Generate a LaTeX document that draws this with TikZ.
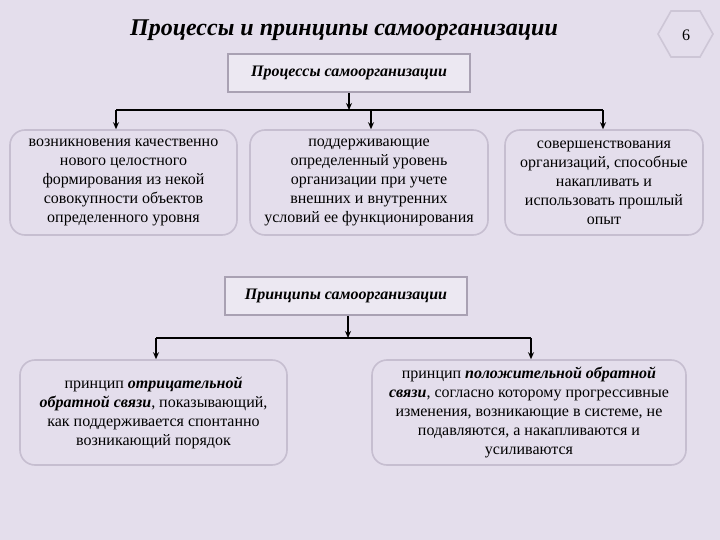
\documentclass[tikz,border=0pt]{standalone}
\usepackage{fontspec}
\setmainfont{Liberation Serif}
\usetikzlibrary{arrows.meta}
\definecolor{bgc}{HTML}{E4DEEC}
\definecolor{rbord}{HTML}{C6BED0}
\definecolor{hbord}{HTML}{A9A1B3}
\definecolor{hexc}{HTML}{CDC6D6}
\tikzset{
  rbox/.style={draw=rbord, line width=1.6pt, rounded corners=15pt, fill=bgc, align=center,
    inner sep=2pt, font=\fontsize{16}{19}\selectfont},
  hbox/.style={draw=hbord, line width=1.8pt, fill=bgc!70!white, align=center,
    font=\fontsize{16}{18}\selectfont\bfseries\itshape},
  conn/.style={line width=1.1pt, black},
  arr/.style={conn, -{Stealth[length=7pt,width=6pt]}}
}
\begin{document}
\begin{tikzpicture}[x=1pt,y=-1pt]
\fill[bgc] (0,0) rectangle (720,540);
\useasboundingbox (0,0) rectangle (720,540);

\node[font=\fontsize{24}{27}\selectfont\bfseries\itshape] (title) at (344,30) {Процессы и принципы самоорганизации};
\draw[hexc, line width=1.6pt] (658,34) -- (671,11) -- (700,11) -- (713,34) -- (700,57) -- (671,57) -- cycle;
\node[font=\fontsize{16}{18}\selectfont] (num) at (686,35) {6};

\node[hbox, minimum width=242pt, minimum height=38pt] (h1) at (349,73) {Процессы самоорганизации};

\node[rbox, minimum width=227pt, minimum height=105pt] (b1) at (123.5,182.5)
 {возникновения качественно\\нового целостного\\формирования из некой\\совокупности объектов\\определенного уровня};
\node[rbox, minimum width=238pt, minimum height=105pt] (b2) at (369,182.5)
 {поддерживающие\\определенный уровень\\организации при учете\\внешних и внутренних\\условий ее функционирования};
\node[rbox, minimum width=198pt, minimum height=105pt] (b3) at (604,182.5)
 {совершенствования\\организаций, способные\\накапливать и\\использовать прошлый\\опыт};

\coordinate (j1) at (349,110);
\coordinate (l1) at (116,110);
\coordinate (m1) at (371,110);
\coordinate (r1) at (603,110);
\draw[arr] (h1.south) -- (j1);
\draw[conn] (l1) -- (r1);
\draw[arr] (l1) -- (l1 |- b1.north);
\draw[arr] (m1) -- (m1 |- b2.north);
\draw[arr] (r1) -- (r1 |- b3.north);

\node[hbox, minimum width=242pt, minimum height=38pt] (h2) at (346,296) {Принципы самоорганизации};

\node[rbox, minimum width=267pt, minimum height=105pt] (b4) at (153.5,412.5)
 {принцип \textbf{\textit{отрицательной}}\\\textbf{\textit{обратной связи}}, показывающий,\\как поддерживается спонтанно\\возникающий порядок};
\node[rbox, minimum width=314pt, minimum height=105pt] (b5) at (529,412.5)
 {принцип \textbf{\textit{положительной обратной}}\\\textbf{\textit{связи}}, согласно которому прогрессивные\\изменения, возникающие в системе, не\\подавляются, а накапливаются и\\усиливаются};

\coordinate (j2) at (348,338);
\coordinate (l2) at (156,338);
\coordinate (r2) at (531,338);
\draw[arr] (h2.south -| j2) -- (j2);
\draw[conn] (l2) -- (r2);
\draw[arr] (l2) -- (l2 |- b4.north);
\draw[arr] (r2) -- (r2 |- b5.north);
\end{tikzpicture}
\end{document}
